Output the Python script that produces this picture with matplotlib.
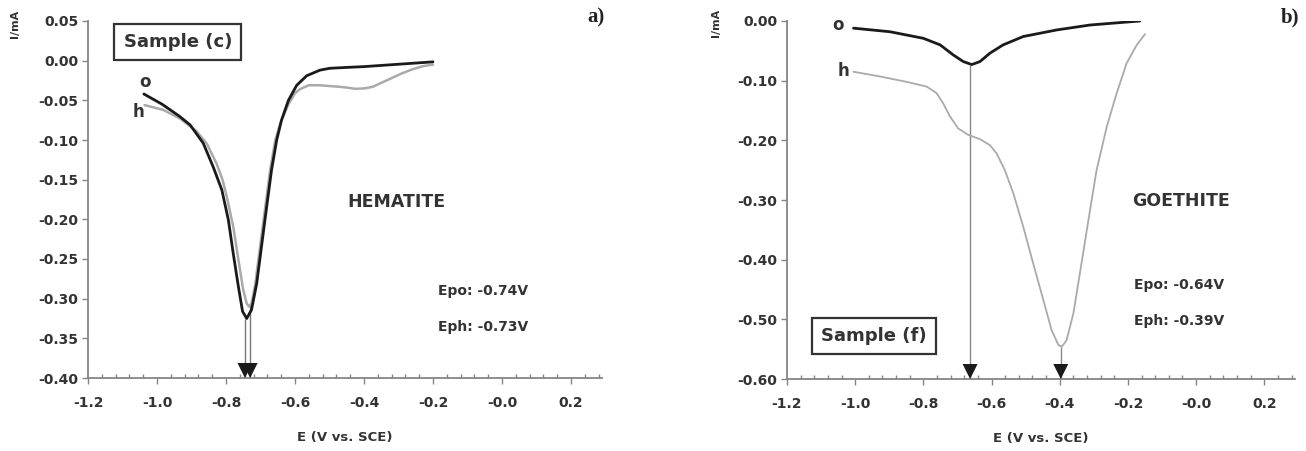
import matplotlib
matplotlib.use("Agg")
import matplotlib.pyplot as plt
from matplotlib.ticker import MultipleLocator, FixedLocator

# Panel a) hematite, sample (c)
a_o_E = [-1.038, -0.985, -0.935, -0.904, -0.866, -0.837, -0.812, -0.793, -0.779, -0.764,
         -0.752, -0.740, -0.726, -0.711, -0.697, -0.682, -0.668, -0.653, -0.639, -0.619,
         -0.595, -0.566, -0.528, -0.499, -0.450, -0.400, -0.350, -0.300, -0.250, -0.200]
a_o_I = [-0.042, -0.055, -0.070, -0.081, -0.104, -0.134, -0.163, -0.201, -0.243, -0.285,
         -0.316, -0.325, -0.314, -0.281, -0.234, -0.184, -0.138, -0.100, -0.075, -0.050,
         -0.031, -0.019, -0.012, -0.0096, -0.0085, -0.0075, -0.006, -0.0045, -0.003, -0.0015]
a_h_E = [-1.036, -0.982, -0.933, -0.885, -0.855, -0.827, -0.810, -0.798, -0.779, -0.764,
         -0.750, -0.740, -0.733, -0.726, -0.715, -0.701, -0.686, -0.672, -0.657, -0.641,
         -0.619, -0.600, -0.586, -0.560, -0.528, -0.499, -0.470, -0.448, -0.425, -0.400,
         -0.375, -0.350, -0.320, -0.290, -0.260, -0.230, -0.200]
a_h_I = [-0.056, -0.062, -0.073, -0.089, -0.105, -0.130, -0.150, -0.171, -0.209, -0.251,
         -0.289, -0.306, -0.310, -0.306, -0.281, -0.234, -0.184, -0.138, -0.100, -0.077,
         -0.055, -0.041, -0.036, -0.031, -0.031, -0.032, -0.033, -0.034, -0.0355, -0.035,
         -0.033, -0.028, -0.022, -0.016, -0.011, -0.007, -0.005]
a_arrow_E = [-0.745, -0.730]
a_arrow_top = [-0.325, -0.308]

# Panel b) goethite, sample (f)
b_o_E = [-1.005, -0.898, -0.800, -0.751, -0.712, -0.683, -0.658, -0.634, -0.605,
         -0.566, -0.507, -0.409, -0.311, -0.165]
b_o_I = [-0.012, -0.018, -0.029, -0.040, -0.057, -0.068, -0.073, -0.068, -0.054,
         -0.040, -0.026, -0.015, -0.0067, 0.0]
b_h_E = [-1.005, -0.927, -0.849, -0.790, -0.761, -0.742, -0.722, -0.698, -0.668, -0.634,
         -0.605, -0.585, -0.561, -0.536, -0.507, -0.478, -0.448, -0.424, -0.404, -0.394,
         -0.380, -0.360, -0.341, -0.316, -0.292, -0.262, -0.233, -0.204, -0.174, -0.150]
b_h_I = [-0.085, -0.093, -0.102, -0.110, -0.121, -0.138, -0.160, -0.180, -0.191, -0.198,
         -0.208, -0.222, -0.250, -0.289, -0.345, -0.406, -0.468, -0.518, -0.543, -0.546,
         -0.535, -0.490, -0.423, -0.334, -0.250, -0.177, -0.121, -0.071, -0.040, -0.022]
b_arrow_E = [-0.663, -0.397]
b_arrow_top = [-0.073, -0.546]

x_ticks = [-1.2, -1.0, -0.8, -0.6, -0.4, -0.2, 0.0, 0.2]
x_labels = ["-1.2", "-1.0", "-0.8", "-0.6", "-0.4", "-0.2", "-0.0", "0.2"]
a_y_ticks = [0.05, 0.00, -0.05, -0.10, -0.15, -0.20, -0.25, -0.30, -0.35, -0.40]
b_y_ticks = [0.00, -0.10, -0.20, -0.30, -0.40, -0.50, -0.60]

txt = "#333333"
axc = "#858585"
sans = "DejaVu Sans"

fig = plt.figure(figsize=(13.06, 4.51), dpi=100)
ax_a = fig.add_axes([88/1306, 73/451, 514/1306, 357/451])
ax_b = fig.add_axes([787/1306, 72/451, 508/1306, 358/451])


def style_axes(ax, yticks, ymin, ymax):
    ax.set_xlim(-1.2, 0.29)
    ax.set_ylim(ymin, ymax)
    for s in ["top", "right"]:
        ax.spines[s].set_visible(False)
    for s in ["left", "bottom"]:
        ax.spines[s].set_color(axc)
        ax.spines[s].set_linewidth(1.3)
    ax.xaxis.set_major_locator(FixedLocator(x_ticks))
    ax.set_xticklabels(x_labels)
    ax.xaxis.set_minor_locator(MultipleLocator(0.04))
    ax.set_yticks(yticks)
    ax.set_yticklabels(["%.2f" % v if v != 0 else "0.00" for v in yticks])
    ax.tick_params(axis="x", which="major", direction="out", length=4, width=1,
                   color=axc, pad=9, labelsize=10, labelcolor=txt)
    ax.tick_params(axis="x", which="minor", direction="in", length=3, width=1, color=axc)
    ax.tick_params(axis="y", which="major", direction="out", length=4, width=1,
                   color=axc, pad=3, labelsize=10, labelcolor=txt)
    for lab in ax.get_xticklabels() + ax.get_yticklabels():
        lab.set_fontweight("bold")
        lab.set_family(sans)
    ax.set_xlabel("E (V vs. SCE)", fontsize=9.5, fontweight="bold", color=txt,
                  family=sans, labelpad=15)


def arrows(ax, xs, tops, ybot, line_color):
    # thin drop line from the peak, filled black head on the axis
    ax.vlines(xs, ybot, tops, color=line_color, lw=1.0)
    for x, t in zip(xs, tops):
        ax.annotate("", xy=(x, ybot), xytext=(x, t),
                    arrowprops=dict(arrowstyle="-|>", color="#1a1a1a", lw=0,
                                    mutation_scale=27, shrinkA=0, shrinkB=0),
                    annotation_clip=False)


def label(ax, x, y, s, size):
    ax.text(x, y, s, fontsize=size, fontweight="bold", color=txt, family=sans,
            ha="center", va="center")


line_kw = dict(solid_joinstyle="round", solid_capstyle="round")

# ---- panel a
style_axes(ax_a, a_y_ticks, -0.40, 0.05)
arrows(ax_a, a_arrow_E, a_arrow_top, -0.40, "#777777")
ax_a.plot(a_h_E, a_h_I, color="#aaaaaa", lw=1.8, **line_kw)
ax_a.plot(a_o_E, a_o_I, color="#1a1a1a", lw=2.0, **line_kw)
ax_a.text(-0.94, 0.0235, "Sample (c)", fontsize=13, fontweight="bold", color=txt, family=sans,
          ha="center", va="center",
          bbox=dict(boxstyle="square,pad=0.5", fc="white", ec="#333333", lw=1.6))
label(ax_a, -1.036, -0.027, "o", 12)
label(ax_a, -1.054, -0.065, "h", 12)
label(ax_a, -0.305, -0.178, "HEMATITE", 12.5)
label(ax_a, -0.054, -0.290, "Epo: -0.74V", 10)
label(ax_a, -0.054, -0.336, "Eph: -0.73V", 10)

# ---- panel b
style_axes(ax_b, b_y_ticks, -0.60, 0.0)
arrows(ax_b, b_arrow_E, b_arrow_top, -0.60, "#888888")
ax_b.plot(b_h_E, b_h_I, color="#aaaaaa", lw=1.3, **line_kw)
ax_b.plot(b_o_E, b_o_I, color="#1a1a1a", lw=2.0, **line_kw)
ax_b.text(-0.944, -0.528, "Sample (f)", fontsize=13, fontweight="bold", color=txt, family=sans,
          ha="center", va="center",
          bbox=dict(boxstyle="square,pad=0.5", fc="white", ec="#333333", lw=1.6))
label(ax_b, -1.051, -0.006, "o", 12)
label(ax_b, -1.033, -0.084, "h", 12)
label(ax_b, -0.045, -0.302, "GOETHITE", 12.5)
label(ax_b, -0.050, -0.442, "Epo: -0.64V", 10)
label(ax_b, -0.050, -0.503, "Eph: -0.39V", 10)

# axis titles and panel letters
fig.text(15/1306, 1 - 24/451, "I/mA", rotation=90, fontsize=8, fontweight="bold",
         color=txt, family=sans, ha="center", va="center")
fig.text(716/1306, 1 - 23/451, "I/mA", rotation=90, fontsize=8, fontweight="bold",
         color=txt, family=sans, ha="center", va="center")
fig.text(596/1306, 1 - 17/451, "a)", fontsize=15, fontweight="bold", color="#222222",
         family="Liberation Serif", ha="center", va="center")
fig.text(1290/1306, 1 - 17/451, "b)", fontsize=15, fontweight="bold", color="#222222",
         family="Liberation Serif", ha="center", va="center")

fig.savefig("out.png", dpi=100, facecolor="white")
